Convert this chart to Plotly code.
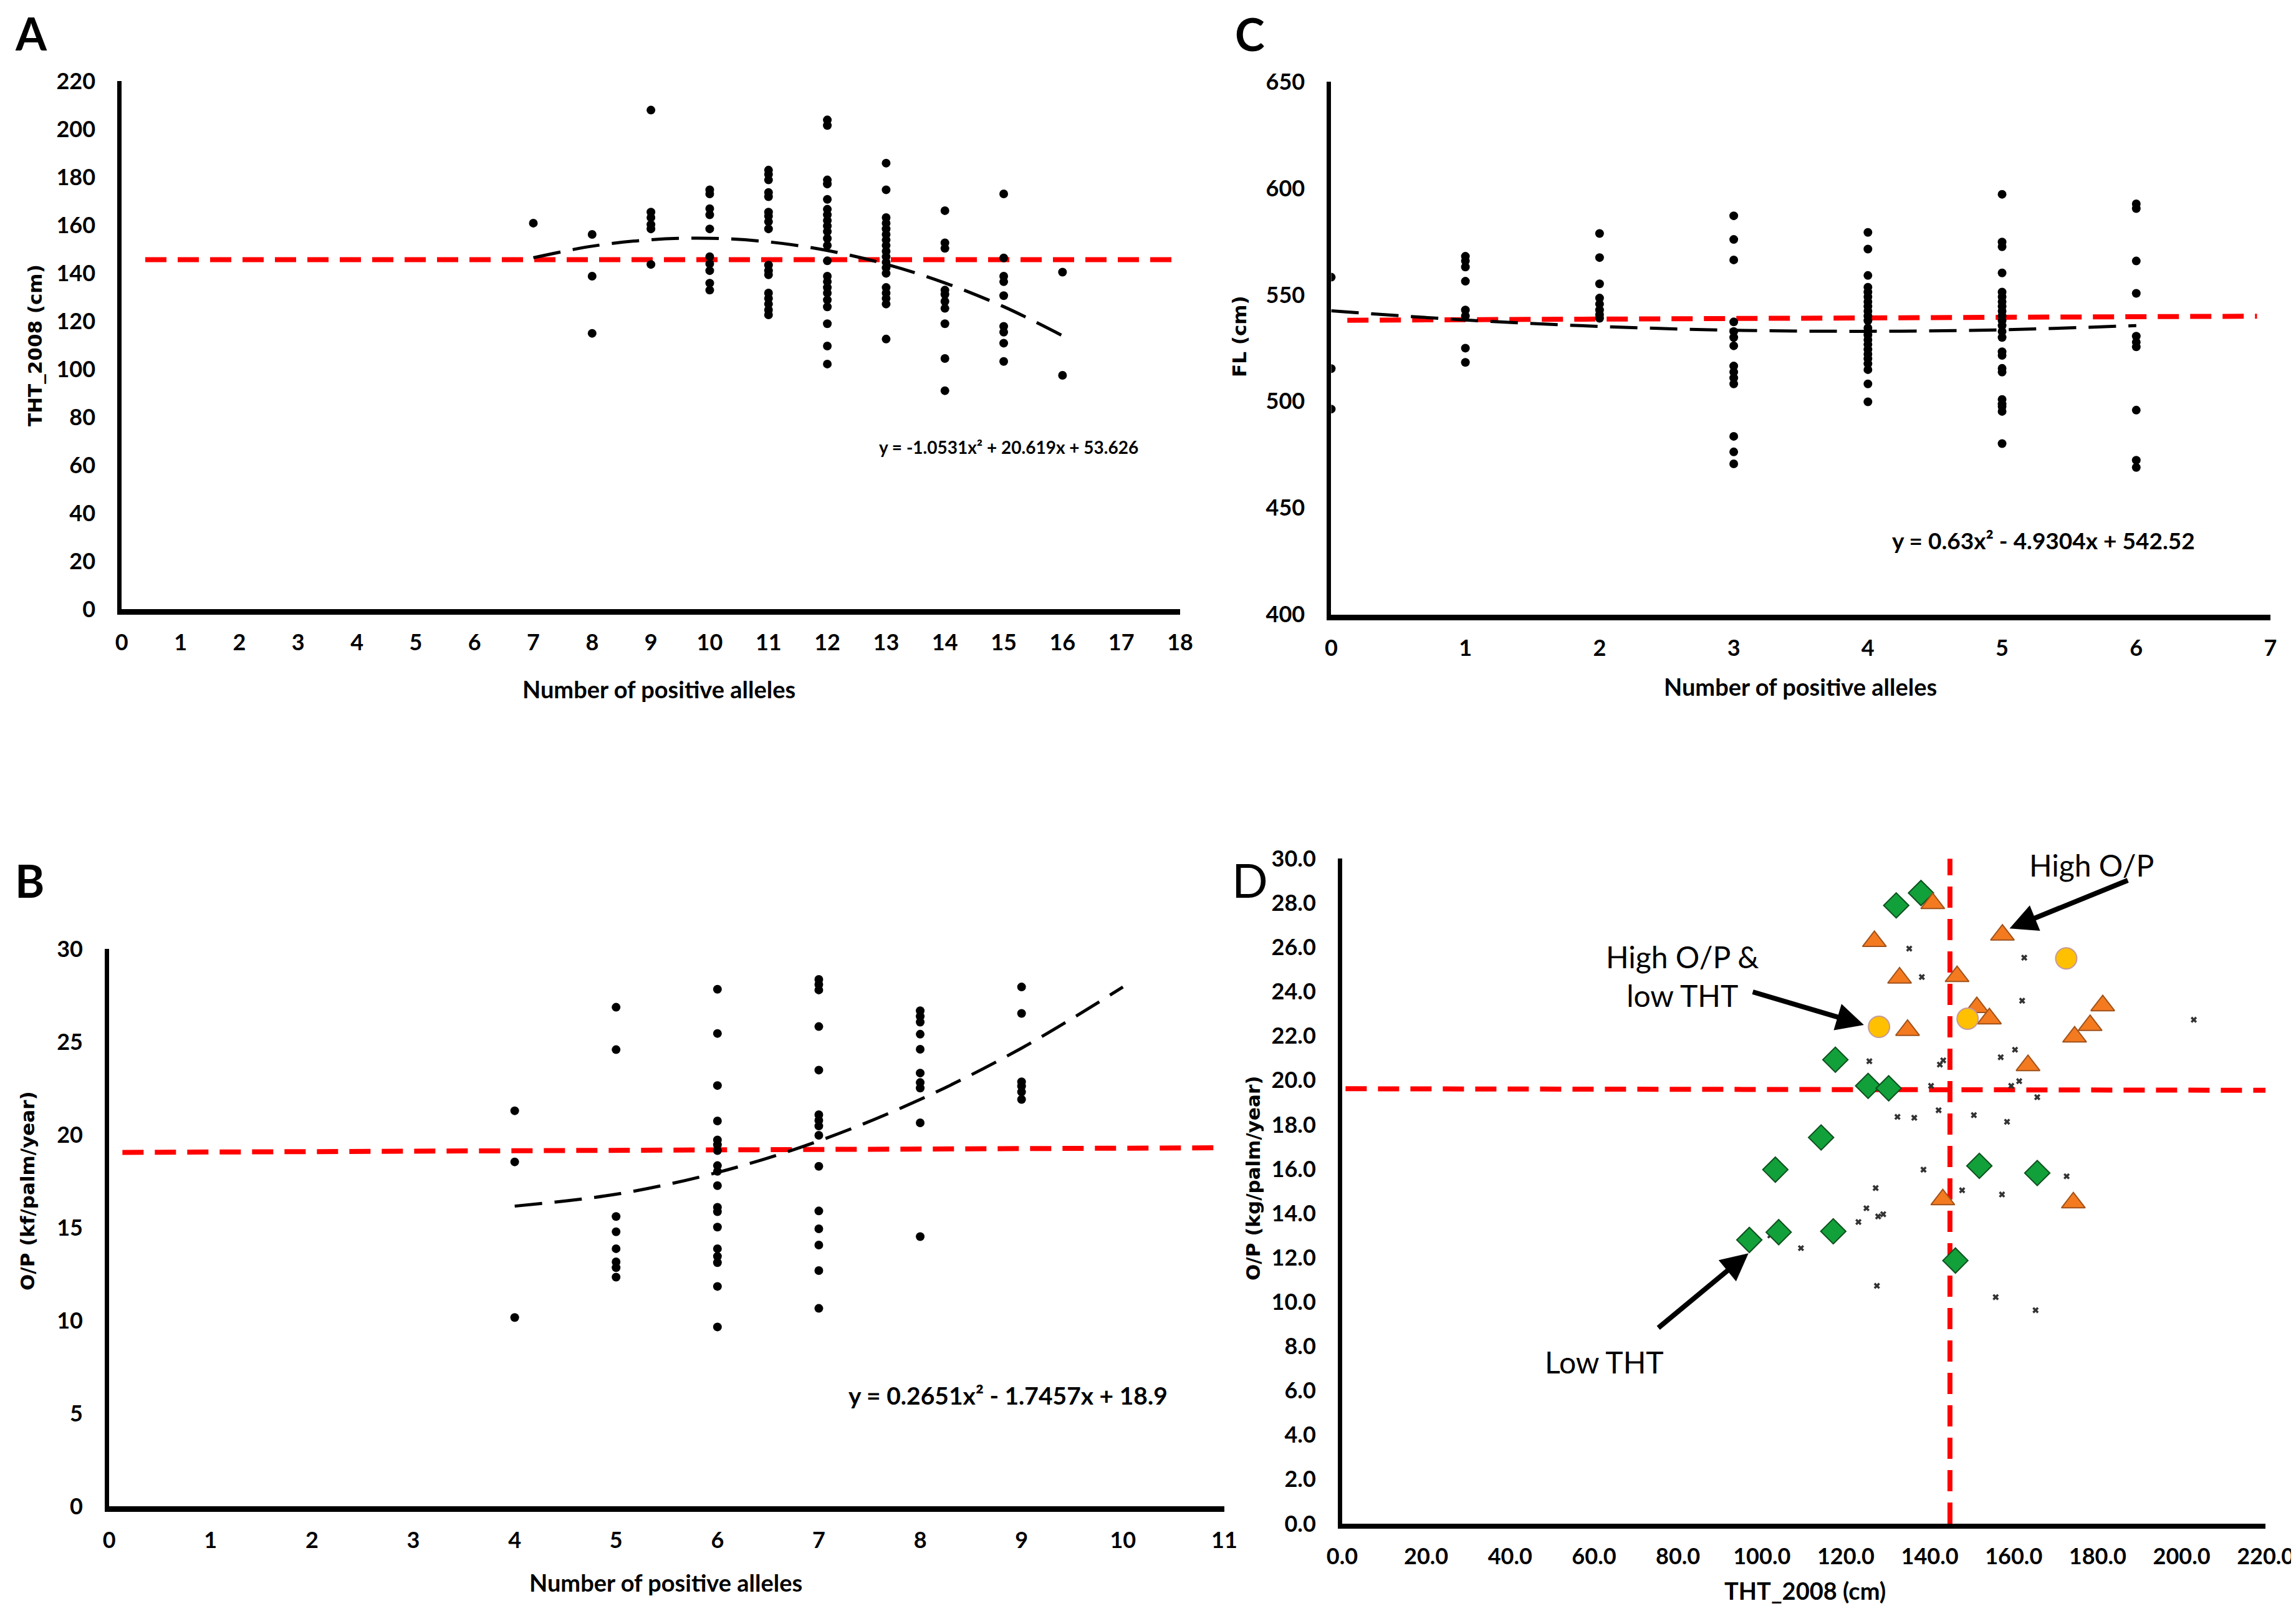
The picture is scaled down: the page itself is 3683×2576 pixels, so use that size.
import plotly.graph_objects as go

W, H = 3683, 2576

# ---- Panel A: THT_2008 vs number of positive alleles ----
a_x = ([7] + [8] * 3 + [9] * 6 + [10] * 10 + [11] * 17 + [12] * 22 + [13] * 18
       + [14] * 10 + [15] * 9 + [16] * 2)
a_y = [160.8,
       156.1, 138.7, 114.9,
       207.9, 165.4, 163.1, 160.2, 158.4, 143.6,
       174.7, 173.0, 166.8, 164.3, 158.4, 146.8, 143.9, 141.0, 135.8, 132.9,
       182.9, 181.1, 178.8, 173.6, 171.8, 165.4, 163.7, 161.4, 158.4, 143.3, 141.0,
       139.3, 131.7, 129.4, 127.1, 124.7, 122.6,
       203.8, 201.5, 178.8, 177.1, 170.7, 166.6, 164.3, 161.9, 159.6, 157.3, 154.4,
       151.5, 145.1, 138.7, 136.4, 134.0, 131.7, 128.8, 125.9, 118.9, 109.6, 102.1,
       185.8, 174.7, 163.1, 160.8, 158.4, 156.1, 153.8, 151.5, 149.1, 146.8, 144.5,
       142.2, 139.9, 134.0, 131.7, 129.4, 127.1, 112.5,
       166.0, 152.6, 150.3, 132.9, 131.1, 128.2, 125.3, 118.9, 104.4, 91.0,
       173.0, 146.3, 138.7, 136.4, 130.6, 117.8, 115.4, 110.8, 103.2,
       140.4, 97.4]
a_trend_x = [7, 8, 9, 10, 11, 12, 13, 14, 15, 16]
a_trend_y = [146.4, 151.2, 153.9, 154.5, 153.0, 149.4, 143.7, 135.9, 126.0, 113.9]
a_ref_x = [0.4, 18]
a_ref_y = [145.6, 145.6]
a_eq = "y = -1.0531x² + 20.619x + 53.626"

# ---- Panel C: FL vs number of positive alleles ----
c_x = ([0] * 3 + [1] * 8 + [2] * 8 + [3] * 14 + [4] * 22 + [5] * 23 + [6] * 10)
c_y = [558.3, 515.4, 496.4,
       568.1, 565.9, 563.1, 556.4, 542.9, 540.1, 525.0, 518.3,
       578.8, 567.5, 555.2, 548.5, 545.7, 542.9, 540.7, 539.0,
       587.1, 576.0, 566.4, 537.3, 532.8, 530.0, 526.1, 516.6, 513.8, 511.0, 508.2,
       483.6, 476.3, 470.7,
       579.3, 571.5, 559.1, 553.6, 551.3, 549.1, 546.8, 544.6, 542.4, 540.1, 537.9,
       534.5, 531.2, 528.9, 526.7, 524.4, 522.2, 520.0, 517.7, 514.9, 508.2, 499.8,
       497.6, 495.3, 480.2,
       597.2, 574.8, 572.6, 560.3, 551.3, 549.1, 546.8, 544.6, 542.4, 540.1, 537.9,
       535.6, 532.8, 530.0, 523.3, 521.6, 515.5, 513.8, 500.9, 498.7, 495.9, 472.4,
       469.0,
       592.7, 590.5, 565.9, 550.7, 530.6, 527.8, 525.6, 503.7, 490.3, 488.0]
c_trend_x = [0, 1, 2, 3, 4, 5, 6]
c_trend_y = [542.5, 538.2, 535.2, 533.4, 532.9, 533.6, 535.6]
c_ref_x = [0.12, 6.9]
c_ref_y = [538.1, 540.0]
c_eq = "y = 0.63x² - 4.9304x + 542.52"

# ---- Panel B: O/P vs number of positive alleles ----
b_x = ([4] * 3 + [5] * 8 + [6] * 18 + [7] * 15 + [8] * 10 + [9] * 6)
b_y = [21.29, 18.54, 10.17,
       26.86, 24.58, 15.60, 14.78, 13.87, 13.16, 12.85, 12.34,
       27.83, 25.45, 22.65, 20.74, 19.72, 19.46, 19.15, 18.34, 18.03, 17.26, 16.10,
       15.86, 15.03, 13.87, 13.46, 13.12, 11.84, 9.66,
       28.36, 28.09, 27.79, 25.82, 23.48, 21.08, 20.78, 20.47, 19.97, 18.30, 15.90,
       14.94, 14.07, 12.69, 10.66,
       26.67, 26.37, 26.06, 25.41, 24.60, 23.32, 22.81, 22.51, 20.64, 14.52,
       27.95, 26.53, 22.85, 22.61, 22.30, 21.90]
b_trend_x = [4, 5, 6, 7, 8, 9, 10]
b_trend_y = [16.16, 16.80, 17.97, 19.67, 21.90, 24.66, 27.95]
b_ref_x = [0.13, 10.95]
b_ref_y = [19.05, 19.3]
b_eq = "y = 0.2651x² - 1.7457x + 18.9"

# ---- Panel D: O/P vs THT_2008 ----
d_low_tht_x = [137.9, 132.0, 117.5, 125.3, 130.2, 114.1, 103.2, 97.0, 104.0, 117.0,
               146.1, 151.8, 165.6]
d_low_tht_y = [28.45, 27.89, 20.93, 19.75, 19.64, 17.42, 15.97, 12.80, 13.15, 13.19,
               11.87, 16.14, 15.82]
d_high_op_x = [140.7, 126.8, 157.3, 132.8, 146.5, 134.7, 151.2, 154.2, 181.2, 178.2,
               174.5, 163.4, 143.1, 174.2]
d_high_op_y = [27.98, 26.27, 26.56, 24.62, 24.69, 22.26, 23.29, 22.78, 23.37, 22.48,
               21.96, 20.67, 14.62, 14.48]
d_both_x = [127.9, 149.0, 172.5]
d_both_y = [22.41, 22.78, 25.50]
d_other_x = [135.1, 138.1, 162.5, 162.0, 202.9, 125.6, 142.4, 143.2, 140.3, 156.9,
             160.3, 159.4, 161.3, 165.6, 132.3, 136.3, 142.1, 150.5, 158.4, 138.5,
             147.7, 157.2, 172.6, 127.1, 124.9, 123.0, 127.7, 128.9, 109.3, 102.0,
             127.4, 155.7, 165.2]
d_other_y = [25.94, 24.66, 25.53, 23.59, 22.73, 20.86, 20.71, 20.90, 19.75, 21.04,
             21.38, 19.75, 19.96, 19.24, 18.35, 18.31, 18.65, 18.43, 18.13, 15.97,
             15.04, 14.85, 15.67, 15.14, 14.23, 13.61, 13.86, 13.96, 12.43, 13.00,
             10.73, 10.22, 9.63]
d_vref_x = [144.8, 144.8]
d_vref_y = [0, 30]
d_href_x = [0.8, 220]
d_href_y = [19.62, 19.55]

TXT = "Lato"
RED = "rgb(255,0,0)"

fig = go.Figure()


def dots(x, y, ax):
    fig.add_trace(go.Scatter(x=x, y=y, mode="markers", xaxis="x" + ax, yaxis="y" + ax,
                             marker=dict(size=14, color="black"), showlegend=False))


def ref_line(x, y, ax):
    fig.add_trace(go.Scatter(x=x, y=y, mode="lines", xaxis="x" + ax, yaxis="y" + ax,
                             line=dict(color=RED, width=8, dash="34px,18px"),
                             showlegend=False, hoverinfo="skip"))


def trend(x, y, ax):
    fig.add_trace(go.Scatter(x=x, y=y, mode="lines", xaxis="x" + ax, yaxis="y" + ax,
                             line=dict(color="black", width=5, dash="44px,20px",
                                       shape="spline"),
                             showlegend=False, hoverinfo="skip"))


# A -> axes 1, C -> axes 2, B -> axes 3, D -> axes 4
ref_line(a_ref_x, a_ref_y, "")
trend(a_trend_x, a_trend_y, "")
dots(a_x, a_y, "")

ref_line(c_ref_x, c_ref_y, "2")
trend(c_trend_x, c_trend_y, "2")
dots(c_x, c_y, "2")

ref_line(b_ref_x, b_ref_y, "3")
trend(b_trend_x, b_trend_y, "3")
dots(b_x, b_y, "3")

ref_line(d_vref_x, d_vref_y, "4")
ref_line(d_href_x, d_href_y, "4")
fig.add_trace(go.Scatter(x=d_other_x, y=d_other_y, mode="markers", xaxis="x4", yaxis="y4",
                         marker=dict(symbol="x", size=9, color="#333333"),
                         showlegend=False))
fig.add_trace(go.Scatter(x=d_low_tht_x, y=d_low_tht_y, mode="markers", xaxis="x4",
                         yaxis="y4",
                         marker=dict(symbol="diamond", size=31, color="#12a03a",
                                     line=dict(color="#0d4f1e", width=2)),
                         showlegend=False))
fig.add_trace(go.Scatter(x=d_high_op_x, y=d_high_op_y, mode="markers", xaxis="x4",
                         yaxis="y4",
                         marker=dict(symbol="triangle-up", size=33, color="#f47a20",
                                     line=dict(color="#a0521a", width=2)),
                         showlegend=False))
fig.add_trace(go.Scatter(x=d_both_x, y=d_both_y, mode="markers", xaxis="x4", yaxis="y4",
                         marker=dict(symbol="circle", size=34, color="#ffc000",
                                     line=dict(color="#c69a9a", width=2)),
                         showlegend=False))


def px_x(v):
    return v / W


def px_y(v):
    return 1 - v / H


tick_font = dict(family=TXT, size=36, color="black", weight="bold")


def xaxis(x0, x1, yanchor, rng, dtick, lw, fmt=None):
    d = dict(domain=[px_x(x0), px_x(x1)], anchor=yanchor, range=rng, dtick=dtick,
             tick0=0, showgrid=False, zeroline=False, showline=True, linecolor="black",
             linewidth=lw, ticks="outside", ticklen=14, tickcolor="rgba(0,0,0,0)",
             tickfont=tick_font, automargin=False)
    if fmt:
        d["tickformat"] = fmt
    return d


def yaxis(y0, y1, xanchor, rng, dtick, lw, fmt=None):
    d = dict(domain=[px_y(y0), px_y(y1)], anchor=xanchor, range=rng, dtick=dtick,
             tick0=0, showgrid=False, zeroline=False, showline=True, linecolor="black",
             linewidth=lw, ticks="outside", ticklen=28, tickcolor="rgba(0,0,0,0)",
             tickfont=tick_font, automargin=False)
    if fmt:
        d["tickformat"] = fmt
    return d


fig.update_layout(
    width=W, height=H, paper_bgcolor="white", plot_bgcolor="white",
    margin=dict(l=0, r=0, t=0, b=0, pad=0, autoexpand=False), showlegend=False,
    xaxis=xaxis(187.3, 1885, "y", [0, 18], 1, 9),
    yaxis=yaxis(969, 122, "x", [0, 220], 20, 7),
    xaxis2=xaxis(2127.4, 3634, "y2", [0, 7], 1, 9),
    yaxis2=yaxis(977.6, 123.2, "x2", [400, 650], 50, 7),
    xaxis3=xaxis(167.2, 1955.9, "y3", [0, 11], 1, 9),
    yaxis3=yaxis(2408.4, 1514, "x3", [0, 30], 5, 7),
    xaxis4=xaxis(2145, 3626.2, "y4", [0, 220], 20, 8, ".1f"),
    yaxis4=yaxis(2436, 1369.2, "x4", [0, 30], 2, 7, ".1f"),
)

ann = []


def label(text, x, y, size, family=TXT, weight="bold", angle=0):
    ann.append(dict(text=text, x=px_x(x), y=px_y(y), xref="paper", yref="paper",
                    showarrow=False, textangle=angle, xanchor="center", yanchor="middle",
                    font=dict(family=family, size=size, color="black", weight=weight)))


# panel letters
label("A", 42, 45, 72)
label("C", 1997, 46, 72)
label("B", 39, 1404, 72)
label("D", 1997, 1402, 76, weight="normal")

# axis titles
label("Number of positive alleles", 1049, 1097, 38)
label("THT_2008 (cm)", 48, 546, 31, family="DejaVu Sans", angle=-90)
label("Number of positive alleles", 2880, 1093, 38)
label("FL (cm)", 1980, 532, 31, family="DejaVu Sans", angle=-90)
label("Number of positive alleles", 1060, 2530, 38)
label("O/P (kf/palm/year)", 36, 1902, 31, family="DejaVu Sans", angle=-90)
label("THT_2008 (cm)", 2887, 2543, 38)
label("O/P (kg/palm/year)", 2002, 1882, 31, family="DejaVu Sans", angle=-90)

# trendline equations
label(a_eq, 1610, 709, 28)
label(c_eq, 3270, 858, 37)
label(b_eq, 1609, 2230, 39)

# panel D callouts
note_font = dict(family=TXT, size=48, color="black")
ann.append(dict(text="High O/P", x=178.5, y=29.7, xref="x4", yref="y4", showarrow=False,
                font=note_font))
ann.append(dict(text="High O/P &<br>low THT", x=81.0, y=24.7, xref="x4", yref="y4",
                showarrow=False, font=note_font))
ann.append(dict(text="Low THT", x=62.5, y=7.3, xref="x4", yref="y4", showarrow=False,
                font=note_font))
for hx, hy, tx, ty in [(159.0, 26.85, 187.4, 29.04), (124.3, 22.5, 97.6, 24.0),
                       (96.8, 12.2, 75.1, 8.8)]:
    ann.append(dict(text="", x=hx, y=hy, ax=tx, ay=ty, xref="x4", yref="y4",
                    axref="x4", ayref="y4", showarrow=True, arrowhead=2, arrowsize=1.1,
                    arrowwidth=8, arrowcolor="black", standoff=0))

fig.update_layout(annotations=ann)

fig.write_html("out.html")
